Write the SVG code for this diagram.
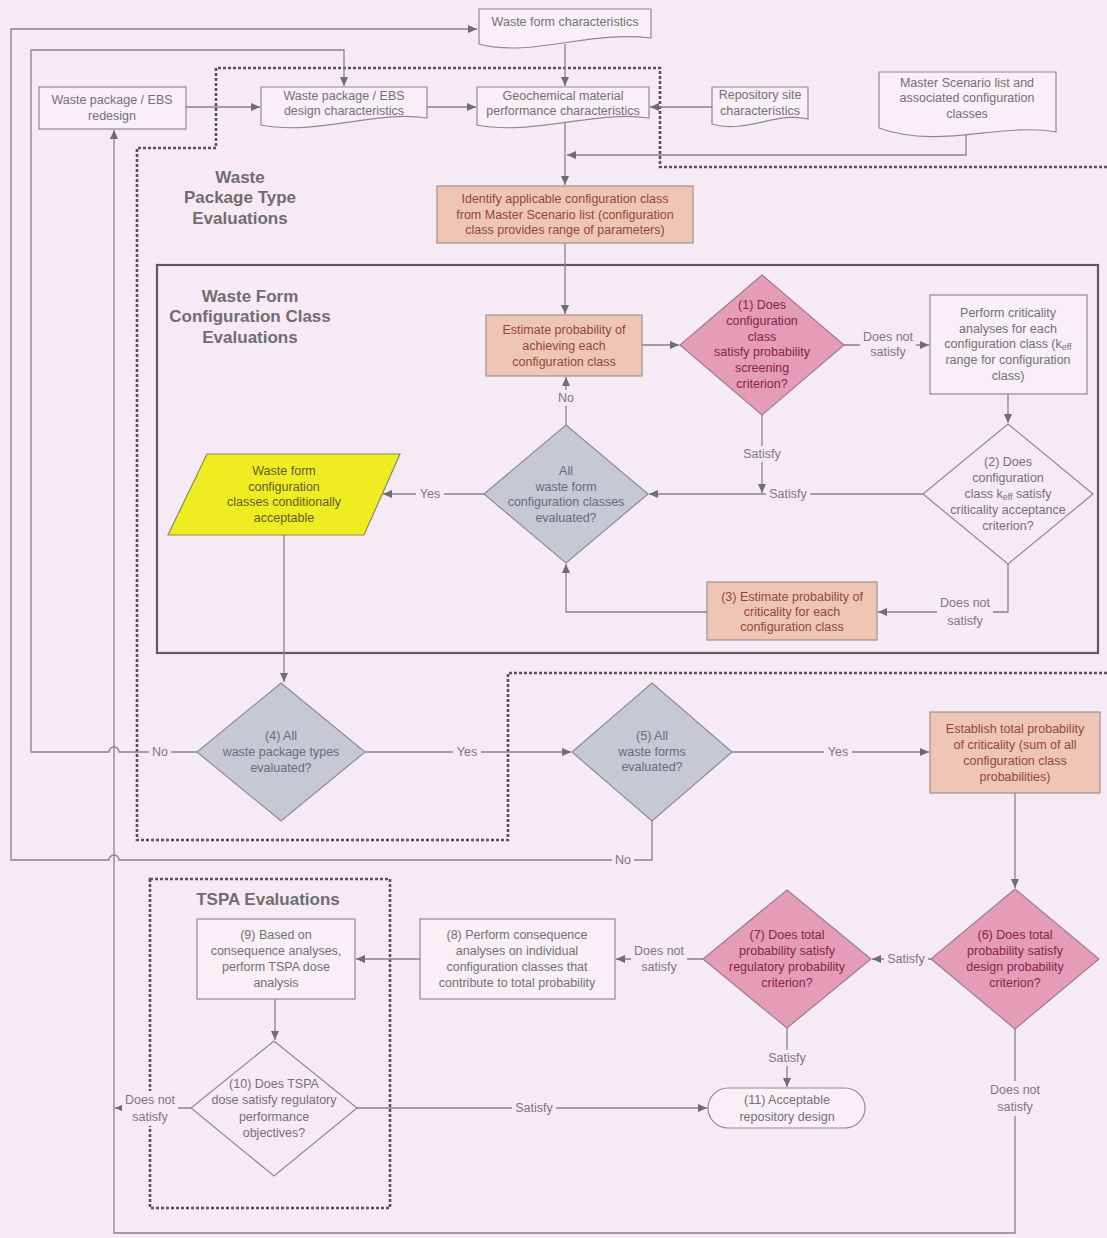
<svg xmlns="http://www.w3.org/2000/svg" width="1107" height="1238" viewBox="0 0 1107 1238">
<defs>
<marker id="ah" markerWidth="9" markerHeight="8" refX="9" refY="4" orient="auto" markerUnits="userSpaceOnUse">
<path d="M0,0 L9,4 L0,8 z" fill="#6e6e6e"/>
</marker>
<style>
text{font-family:"Liberation Sans",Arial,sans-serif;font-size:12.5px;text-anchor:middle;dominant-baseline:central}
.ln{fill:none;stroke:#858585;stroke-width:1.3}
.dash{fill:none;stroke:#555;stroke-width:2.6;stroke-dasharray:3 2}
.frame{fill:none;stroke:#5c5c5c;stroke-width:2.2}
.box{fill:#f8eff7;stroke:#8c8c8c;stroke-width:1.2}
.sal{fill:#efc6b6;stroke:#a08f8a;stroke-width:1.2}
.pink{fill:#e49cb7;stroke:#9c7e89;stroke-width:1.2}
.gry{fill:#c6c8d4;stroke:#8c8c96;stroke-width:1.2}
.yel{fill:#eeed22;stroke:#8c8c5a;stroke-width:1.2}
.none{fill:#f6ebf4;stroke:#8c8c8c;stroke-width:1.2}
.t{fill:#727272}
.ts{fill:#94473a}
.tp{fill:#862545}
.tg{fill:#6a6a7a}
.ty{fill:#5e5e2a}
.title{font-size:17px;font-weight:bold;fill:#6e6e6e}
.lbg{fill:#f6ebf4}
.lb{fill:#7a7a7a}
.sub{font-size:9px}
</style>
</defs>
<rect x="0" y="0" width="1107" height="1238" fill="#f6ebf4"/>

<g id="boundaries">
<path class="dash" d="M1107,167 H660 V68 H216 V148 H137 V840 H508 V673 H1107"/>
<rect class="dash" x="150" y="879" width="240" height="329"/>
<rect class="frame" x="157" y="265" width="941" height="388"/>
<text class="title" x="240" y="177">Waste</text>
<text class="title" x="240" y="197">Package Type</text>
<text class="title" x="240" y="218">Evaluations</text>
<text class="title" x="250" y="296">Waste Form</text>
<text class="title" x="250" y="316">Configuration Class</text>
<text class="title" x="250" y="337">Evaluations</text>
<text class="title" x="268" y="899">TSPA Evaluations</text>
</g>

<g id="connectors">
<path class="ln" d="M652,821 V860 H119 A5,5 0 0 0 109,860 H11 V29 H477" marker-end="url(#ah)"/>
<path class="ln" d="M197,752 H119 A5,5 0 0 0 109,752 H31 V50 H344 V86" marker-end="url(#ah)"/>
<path class="ln" d="M1015,1029 V1233 H114 V130" marker-end="url(#ah)"/>
<path class="ln" d="M186,107 H260" marker-end="url(#ah)"/>
<path class="ln" d="M427,107 H476" marker-end="url(#ah)"/>
<path class="ln" d="M712,107 H650" marker-end="url(#ah)"/>
<path class="ln" d="M565,44 V86" marker-end="url(#ah)"/>
<path class="ln" d="M966,128 V155 H567" marker-end="url(#ah)"/>
<path class="ln" d="M565,123 V185" marker-end="url(#ah)"/>
<path class="ln" d="M565,243 V314" marker-end="url(#ah)"/>
<path class="ln" d="M642,345 H679" marker-end="url(#ah)"/>
<path class="ln" d="M844,345 H929" marker-end="url(#ah)"/>
<path class="ln" d="M1008,394 V423" marker-end="url(#ah)"/>
<path class="ln" d="M923,494 H649" marker-end="url(#ah)"/>
<path class="ln" d="M762,415 V493" marker-end="url(#ah)"/>
<path class="ln" d="M566,425 V377" marker-end="url(#ah)"/>
<path class="ln" d="M484,494 H383" marker-end="url(#ah)"/>
<path class="ln" d="M1008,564 V612 H878" marker-end="url(#ah)"/>
<path class="ln" d="M707,612 H566 V564" marker-end="url(#ah)"/>
<path class="ln" d="M284,535 V682" marker-end="url(#ah)"/>
<path class="ln" d="M365,752 H571" marker-end="url(#ah)"/>
<path class="ln" d="M732,752 H929" marker-end="url(#ah)"/>
<path class="ln" d="M1015,793 V888" marker-end="url(#ah)"/>
<path class="ln" d="M931,959 H872" marker-end="url(#ah)"/>
<path class="ln" d="M703,959 H616" marker-end="url(#ah)"/>
<path class="ln" d="M420,959 H356" marker-end="url(#ah)"/>
<path class="ln" d="M275,999 V1040" marker-end="url(#ah)"/>
<path class="ln" d="M357,1108 H707" marker-end="url(#ah)"/>
<path class="ln" d="M191,1108 H115" marker-end="url(#ah)"/>
<path class="ln" d="M787,1028 V1087" marker-end="url(#ah)"/>
</g>

<g id="waste-form-characteristics">
<path class="box" d="M479,9 H651 V38 C590,30 530,58 479,44 Z"/>
<text class="t" x="565" y="22">Waste form characteristics</text>
</g>
<g id="redesign">
<rect class="box" x="39" y="87" width="147" height="42"/>
<text class="t" x="112" y="100">Waste package / EBS</text>
<text class="t" x="112" y="116">redesign</text>
</g>
<g id="design-characteristics">
<path class="box" d="M261,87 H427 V118 C375,110 315,136 261,125 Z"/>
<text class="t" x="344" y="96">Waste package / EBS</text>
<text class="t" x="344" y="111">design characteristics</text>
</g>
<g id="geochemical">
<path class="box" d="M477,87 H649 V118 C597,110 530,136 477,125 Z"/>
<text class="t" x="563" y="96">Geochemical material</text>
<text class="t" x="563" y="111">performance characteristics</text>
</g>
<g id="repository-site">
<path class="box" d="M712,87 H808 V119 C778,111 745,134 712,124 Z"/>
<text class="t" x="760" y="95">Repository site</text>
<text class="t" x="760" y="111">characteristics</text>
</g>
<g id="master-scenario">
<path class="box" d="M879,72 H1056 V132 C1000,122 940,150 879,128 Z"/>
<text class="t" x="967" y="83">Master Scenario list and</text>
<text class="t" x="967" y="98">associated configuration</text>
<text class="t" x="967" y="114">classes</text>
</g>
<g id="identify">
<rect class="sal" x="437" y="186" width="256" height="57"/>
<text class="ts" x="565" y="199">Identify applicable configuration class</text>
<text class="ts" x="565" y="215">from Master Scenario list (configuration</text>
<text class="ts" x="565" y="230">class provides range of parameters)</text>
</g>
<g id="estimate">
<rect class="sal" x="486" y="315" width="156" height="61"/>
<text class="ts" x="564" y="330">Estimate probability of</text>
<text class="ts" x="564" y="346">achieving each</text>
<text class="ts" x="564" y="362">configuration class</text>
</g>
<g id="d1">
<path class="pink" d="M762,275 L844,345 L762,415 L680,345 Z"/>
<text class="tp" x="762" y="305">(1) Does</text>
<text class="tp" x="762" y="321">configuration</text>
<text class="tp" x="762" y="337">class</text>
<text class="tp" x="762" y="352">satisfy probability</text>
<text class="tp" x="762" y="368">screening</text>
<text class="tp" x="762" y="384">criterion?</text>
</g>
<g id="perform-criticality">
<rect class="box" x="930" y="295" width="157" height="99"/>
<text class="t" x="1008" y="313">Perform criticality</text>
<text class="t" x="1008" y="329">analyses for each</text>
<text class="t" x="1008" y="344">configuration class (k<tspan class="sub" dy="3">eff</tspan></text>
<text class="t" x="1008" y="360">range for configuration</text>
<text class="t" x="1008" y="376">class)</text>
</g>
<g id="d2">
<path class="none" d="M1008,424 L1093,494 L1008,564 L923,494 Z"/>
<text class="t" x="1008" y="462">(2) Does</text>
<text class="t" x="1008" y="478">configuration</text>
<text class="t" x="1008" y="494">class k<tspan class="sub" dy="3">eff</tspan><tspan dy="-3"> satisfy</tspan></text>
<text class="t" x="1008" y="510">criticality acceptance</text>
<text class="t" x="1008" y="526">criterion?</text>
</g>
<g id="all-classes">
<path class="gry" d="M566,425 L648,494 L566,563 L484,494 Z"/>
<text class="tg" x="566" y="471">All</text>
<text class="tg" x="566" y="487">waste form</text>
<text class="tg" x="566" y="502">configuration classes</text>
<text class="tg" x="566" y="518">evaluated?</text>
</g>
<g id="conditionally-acceptable">
<path class="yel" d="M207,454 L400,454 L364,535 L168,535 Z"/>
<text class="ty" x="284" y="471">Waste form</text>
<text class="ty" x="284" y="487">configuration</text>
<text class="ty" x="284" y="502">classes conditionally</text>
<text class="ty" x="284" y="518">acceptable</text>
</g>
<g id="estimate-criticality">
<rect class="sal" x="707" y="582" width="170" height="58"/>
<text class="ts" x="792" y="597">(3) Estimate probability of</text>
<text class="ts" x="792" y="612">criticality for each</text>
<text class="ts" x="792" y="627">configuration class</text>
</g>
<g id="d4">
<path class="gry" d="M281,683 L365,752 L281,821 L197,752 Z"/>
<text class="tg" x="281" y="736">(4) All</text>
<text class="tg" x="281" y="752">waste package types</text>
<text class="tg" x="281" y="768">evaluated?</text>
</g>
<g id="d5">
<path class="gry" d="M652,683 L732,752 L652,821 L572,752 Z"/>
<text class="tg" x="652" y="736">(5) All</text>
<text class="tg" x="652" y="752">waste forms</text>
<text class="tg" x="652" y="767">evaluated?</text>
</g>
<g id="total-probability">
<rect class="sal" x="930" y="712" width="170" height="81"/>
<text class="ts" x="1015" y="729">Establish total probability</text>
<text class="ts" x="1015" y="745">of criticality (sum of all</text>
<text class="ts" x="1015" y="761">configuration class</text>
<text class="ts" x="1015" y="777">probabilities)</text>
</g>
<g id="d6">
<path class="pink" d="M1015,889 L1099,959 L1015,1029 L931,959 Z"/>
<text class="tp" x="1015" y="935">(6) Does total</text>
<text class="tp" x="1015" y="951">probability satisfy</text>
<text class="tp" x="1015" y="967">design probability</text>
<text class="tp" x="1015" y="983">criterion?</text>
</g>
<g id="d7">
<path class="pink" d="M787,890 L871,959 L787,1028 L703,959 Z"/>
<text class="tp" x="787" y="935">(7) Does total</text>
<text class="tp" x="787" y="951">probability satisfy</text>
<text class="tp" x="787" y="967">regulatory probability</text>
<text class="tp" x="787" y="983">criterion?</text>
</g>
<g id="consequence">
<rect class="box" x="420" y="919" width="195" height="80"/>
<text class="t" x="517" y="935">(8) Perform consequence</text>
<text class="t" x="517" y="951">analyses on individual</text>
<text class="t" x="517" y="967">configuration classes that</text>
<text class="t" x="517" y="983">contribute to total probability</text>
</g>
<g id="tspa-dose">
<rect class="box" x="197" y="919" width="158" height="80"/>
<text class="t" x="276" y="935">(9) Based on</text>
<text class="t" x="276" y="951">consequence analyses,</text>
<text class="t" x="276" y="967">perform TSPA dose</text>
<text class="t" x="276" y="983">analysis</text>
</g>
<g id="d10">
<path class="none" d="M274,1041 L357,1108 L274,1176 L191,1108 Z"/>
<text class="t" x="274" y="1084">(10) Does TSPA</text>
<text class="t" x="274" y="1100">dose satisfy regulatory</text>
<text class="t" x="274" y="1117">performance</text>
<text class="t" x="274" y="1133">objectives?</text>
</g>
<g id="acceptable-design">
<rect class="box" x="708" y="1088" width="157" height="40" rx="20"/>
<text class="t" x="787" y="1100">(11) Acceptable</text>
<text class="t" x="787" y="1117">repository design</text>
</g>

<g id="labels">
<rect class="lbg" x="555" y="390" width="22" height="16"/><text class="lb" x="566" y="398">No</text>
<rect class="lbg" x="416" y="486" width="28" height="16"/><text class="lb" x="430" y="494">Yes</text>
<rect class="lbg" x="860" y="328" width="56" height="33"/><text class="lb" x="888" y="337">Does not</text><text class="lb" x="888" y="352">satisfy</text>
<rect class="lbg" x="740" y="446" width="44" height="16"/><text class="lb" x="762" y="454">Satisfy</text>
<rect class="lbg" x="766" y="486" width="44" height="16"/><text class="lb" x="788" y="494">Satisfy</text>
<rect class="lbg" x="937" y="594" width="56" height="36"/><text class="lb" x="965" y="603">Does not</text><text class="lb" x="965" y="621">satisfy</text>
<rect class="lbg" x="149" y="744" width="22" height="16"/><text class="lb" x="160" y="752">No</text>
<rect class="lbg" x="453" y="744" width="28" height="16"/><text class="lb" x="467" y="752">Yes</text>
<rect class="lbg" x="824" y="744" width="28" height="16"/><text class="lb" x="838" y="752">Yes</text>
<rect class="lbg" x="612" y="852" width="22" height="16"/><text class="lb" x="623" y="860">No</text>
<rect class="lbg" x="884" y="951" width="44" height="16"/><text class="lb" x="906" y="959">Satisfy</text>
<rect class="lbg" x="631" y="942" width="56" height="34"/><text class="lb" x="659" y="951">Does not</text><text class="lb" x="659" y="967">satisfy</text>
<rect class="lbg" x="765" y="1050" width="44" height="16"/><text class="lb" x="787" y="1058">Satisfy</text>
<rect class="lbg" x="512" y="1100" width="44" height="16"/><text class="lb" x="534" y="1108">Satisfy</text>
<rect class="lbg" x="122" y="1091" width="56" height="35"/><text class="lb" x="150" y="1100">Does not</text><text class="lb" x="150" y="1117">satisfy</text>
<rect class="lbg" x="987" y="1081" width="56" height="35"/><text class="lb" x="1015" y="1090">Does not</text><text class="lb" x="1015" y="1107">satisfy</text>
</g>
</svg>
